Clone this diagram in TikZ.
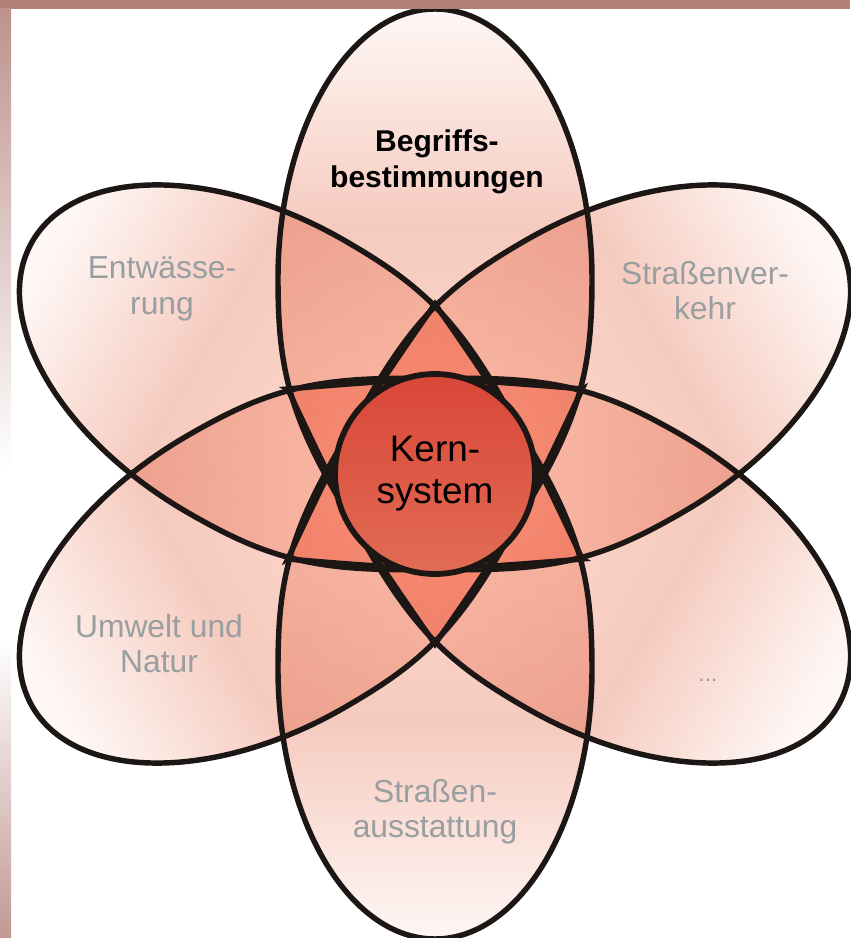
\documentclass[tikz,border=0pt]{standalone}
\usepackage{fontspec}
\setmainfont{Liberation Sans}

\definecolor{edge}{RGB}{28,22,20}
\definecolor{labelgrey}{RGB}{153,158,161}
\definecolor{barrose}{RGB}{178,127,121}
\definecolor{kerntop}{RGB}{217,70,56}
\definecolor{kernbottom}{RGB}{226,108,84}
\definecolor{petaltip}{RGB}{254,226,218}
\definecolor{petalinner}{RGB}{253,218,207}
\definecolor{petalmid}{RGB}{246,203,191}
\definecolor{petalfar}{RGB}{254,247,245}

\pgfdeclareverticalshading{petalshade}{100bp}{color(0bp)=(petaltip); color(25bp)=(petaltip);
  color(38bp)=(petalinner); color(58bp)=(petalmid); color(75bp)=(petalfar); color(100bp)=(petalfar)}

% one leaf, tip below the centre, round end on top
\newcommand\petaloutline{(0,-170) .. controls (137.7,26.6) and (157,75) .. (157,195)
  .. controls (157,344) and (86.7,465) .. (0,465)
  .. controls (-86.7,465) and (-157,344) .. (-157,195)
  .. controls (-157,75) and (-137.7,26.6) .. cycle}

\begin{document}
\begin{tikzpicture}[x=0.02cm, y=0.02cm,
  petalfill/.style={shading=petalshade, blend mode=multiply},
  petalline/.style={draw=edge, line width=3.1pt},
  soft/.style={text=labelgrey, font=\fontsize{18.1}{20.1}\selectfont, align=center, inner sep=0pt},
  begriff/.style={font=\bfseries\fontsize{17.1}{20.4}\selectfont, align=center, inner sep=0pt},
  kern/.style={circle, draw=edge, line width=3.3pt, minimum size=4cm, inner sep=0pt,
    top color=kerntop, bottom color=kernbottom, align=center, font=\fontsize{21}{23.8}\selectfont}]
\useasboundingbox (0,0) rectangle (850,938);
\coordinate (mid) at (435,464);

\foreach \ang in {0,60,...,300}
  \shade[petalfill, shading angle=\ang, shift={(mid)}, rotate=\ang] \petaloutline;
\foreach \ang in {0,60,...,300}
  \draw[petalline, shift={(mid)}, rotate=\ang] \petaloutline;

\node[kern] (kern) at (mid) {Kern-\\system};

%%%%%%%%%%%%%%%%%%%%%%%%%%%%%%%%%%%%%%%%

\node[begriff] (begriffs) at (437,776) {Begriffs-\\bestimmungen};
\node[soft] (entw) at (162,649) {Entwässe-\\rung};
\node[soft] (verkehr) at (705,647.5) {Straßenver-\\kehr};
\node[soft] (umwelt) at (159,294.5) {Umwelt und\\Natur};
\node[soft] (ausst) at (435,126.5) {Straßen-\\ausstattung};
\node[soft, font=\fontsize{13}{15}\selectfont] (weitere) at (708,258) {...};

% frame strips
\fill[barrose] (0,929) rectangle (850,938);
\shade[top color=barrose!85, bottom color=white] (0,470) rectangle (11,929);
\fill[white] (0,300) rectangle (11,470);
\shade[top color=white, bottom color=barrose!80] (0,0) rectangle (11,300);
\end{tikzpicture}
\end{document}
